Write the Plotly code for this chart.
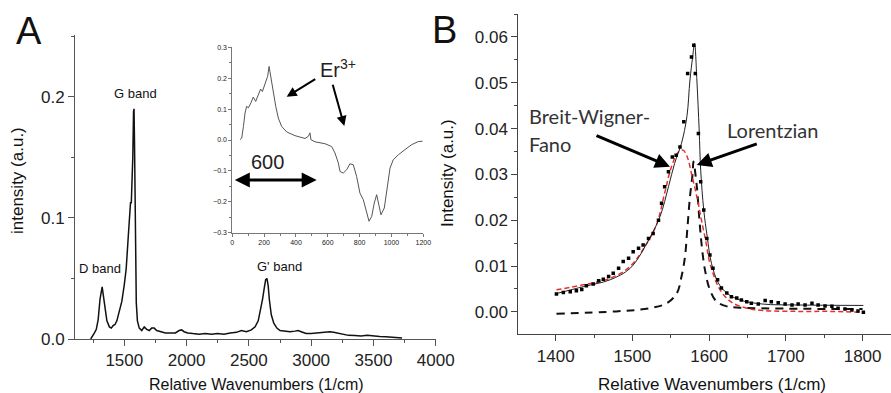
import plotly.graph_objects as go

# ---------------- Panel A: full Raman spectrum ----------------
a_wavenumber = [1230, 1245, 1260, 1275, 1290, 1305, 1315, 1322, 1330, 1345, 1360, 1380, 1395, 1410,
                1425, 1440, 1460, 1480, 1500, 1515, 1530, 1540, 1550, 1556, 1562, 1568, 1574, 1578,
                1582, 1586, 1590, 1596, 1605, 1620, 1640, 1660, 1680, 1700, 1720, 1740, 1760, 1790,
                1830, 1870, 1910, 1940, 1960, 1980, 2010, 2050, 2100, 2150, 2200, 2250, 2300, 2350,
                2400, 2440, 2480, 2520, 2550, 2575, 2595, 2610, 2625, 2635, 2645, 2655, 2665, 2680,
                2700, 2725, 2750, 2790, 2830, 2870, 2895, 2920, 2960, 3000, 3050, 3100, 3150, 3180,
                3220, 3260, 3300, 3350, 3400, 3450, 3500, 3550, 3600, 3650, 3700, 3730]
a_intensity = [0.0, 0.002, 0.005, 0.008, 0.016, 0.033, 0.041, 0.043, 0.037, 0.024, 0.015, 0.010, 0.009, 0.011,
               0.012, 0.015, 0.022, 0.031, 0.045, 0.058, 0.082, 0.103, 0.113, 0.112, 0.125, 0.150, 0.188, 0.190,
               0.160, 0.120, 0.070, 0.030, 0.015, 0.009, 0.007, 0.010, 0.008, 0.007, 0.009, 0.009, 0.007, 0.006,
               0.005, 0.005, 0.005, 0.007, 0.0075, 0.006, 0.005, 0.0045, 0.004, 0.0045, 0.004, 0.0045, 0.004, 0.005,
               0.0055, 0.007, 0.006, 0.0075, 0.010, 0.015, 0.024, 0.033, 0.043, 0.049, 0.050, 0.044, 0.032, 0.020,
               0.013, 0.009, 0.007, 0.0065, 0.006, 0.0065, 0.007, 0.006, 0.0045, 0.0045, 0.005, 0.0055, 0.006, 0.0055,
               0.0045, 0.0035, 0.003, 0.0028, 0.0025, 0.003, 0.0022, 0.002, 0.0018, 0.0012, 0.001, 0.0008]

# ---------------- Inset: Er3+ difference spectrum ----------------
inset_x = [48, 59, 70, 80, 90, 101, 117, 132, 147, 163, 178, 189, 205, 222, 231, 241, 258, 273, 289, 310,
           342, 394, 457, 478, 488, 494, 520, 582, 624, 645, 666, 677, 697, 719, 739, 760, 781, 802, 823,
           844, 859, 876, 892, 907, 922, 934, 955, 976, 991, 1011, 1043, 1085, 1127, 1169, 1195]
inset_y = [0.001, 0.006, 0.044, 0.087, 0.109, 0.104, 0.120, 0.139, 0.125, 0.147, 0.165, 0.157, 0.184, 0.206,
           0.238, 0.206, 0.157, 0.109, 0.071, 0.044, 0.026, 0.014, 0.005, 0.012, 0.023, 0.001, -0.006, -0.012,
           -0.021, -0.042, -0.074, -0.102, -0.107, -0.096, -0.077, -0.080, -0.118, -0.172, -0.193, -0.236,
           -0.263, -0.247, -0.204, -0.177, -0.220, -0.242, -0.220, -0.150, -0.091, -0.064, -0.048, -0.031,
           -0.015, -0.005, -0.004]

# ---------------- Panel B: G band fit ----------------
b_data_x = [1401, 1410, 1419, 1427, 1434, 1440, 1449, 1456, 1462, 1469, 1475, 1482, 1488, 1495, 1501, 1508,
            1514, 1521, 1527, 1534, 1538, 1542, 1547, 1552, 1557, 1562, 1567, 1572, 1577, 1580, 1582, 1586,
            1589, 1593, 1597, 1601, 1605, 1611, 1616, 1623, 1629, 1636, 1642, 1649, 1655, 1664, 1673, 1681,
            1690, 1699, 1708, 1716, 1725, 1734, 1742, 1751, 1760, 1768, 1777, 1786, 1794, 1801]
b_data_y = [0.0039, 0.0042, 0.0044, 0.0046, 0.0049, 0.0057, 0.0061, 0.0068, 0.0071, 0.0077, 0.0084, 0.0095,
            0.0110, 0.0117, 0.0131, 0.0139, 0.0146, 0.0160, 0.0171, 0.0200, 0.0237, 0.0273, 0.0306, 0.0338,
            0.0342, 0.0360, 0.0415, 0.0520, 0.0556, 0.0582, 0.0520, 0.0389, 0.0284, 0.0222, 0.0160, 0.0124,
            0.0095, 0.0070, 0.0052, 0.0041, 0.0033, 0.0030, 0.0026, 0.0022, 0.0019, 0.0017, 0.0025, 0.0022,
            0.0020, 0.0017, 0.0015, 0.0017, 0.0015, 0.0019, 0.0015, 0.0013, 0.0012, 0.0008, 0.0006, 0.0004,
            0.0002, -0.0001]

b_fit_x = [1401, 1436, 1471, 1497, 1519, 1536, 1547, 1555, 1564, 1571, 1575, 1578.5, 1581, 1584, 1587,
           1589, 1593, 1597.5, 1603, 1612, 1623, 1640, 1670, 1714, 1801]
b_fit_y = [0.0040, 0.0055, 0.0070, 0.0095, 0.0150, 0.0208, 0.0273, 0.0324, 0.0368, 0.0426, 0.0506, 0.0556,
           0.0586, 0.0506, 0.0397, 0.0309, 0.0222, 0.0164, 0.0106, 0.0063, 0.0041, 0.0026, 0.0017, 0.0015, 0.0014]

b_bwf_x = [1401, 1436, 1471, 1497, 1519, 1532, 1542, 1551, 1560, 1566, 1571.5, 1577, 1584, 1590, 1597,
           1599, 1605, 1612, 1621, 1631, 1649, 1670, 1714, 1757, 1801]
b_bwf_y = [0.0048, 0.0059, 0.0073, 0.0099, 0.0150, 0.0193, 0.0259, 0.0317, 0.0349, 0.0353, 0.0338, 0.0302,
           0.0251, 0.0200, 0.0142, 0.0120, 0.0084, 0.0055, 0.0033, 0.0019, 0.0008, 0.0003, 0.0001, 0.0001, -0.0001]

b_lor_x = [1401, 1479, 1523, 1545, 1558, 1564, 1568.5, 1571.5, 1575, 1578.5, 1579.5, 1584, 1587, 1590,
           1594.5, 1601, 1610, 1623, 1640, 1700, 1800]
b_lor_y = [-0.0004, 0.0001, 0.0008, 0.0019, 0.0041, 0.0077, 0.0120, 0.0179, 0.0251, 0.0302, 0.0328, 0.0273,
           0.0208, 0.0150, 0.0092, 0.0048, 0.0022, 0.0012, 0.0009, 0.0007, 0.0006]

W, H = 891, 393
FONT = "Liberation Sans, Arial, sans-serif"
CAL = "Lato, Liberation Sans, sans-serif"


def px(x):
    return x / W


def py(y):
    return 1 - y / H


fig = go.Figure()
fig.add_trace(go.Scatter(x=a_wavenumber, y=a_intensity, mode="lines",
                         line=dict(color="#111", width=1.5), xaxis="x", yaxis="y"))
fig.add_trace(go.Scatter(x=inset_x, y=inset_y, mode="lines",
                         line=dict(color="#555", width=1), xaxis="x3", yaxis="y3"))
fig.add_trace(go.Scatter(x=b_lor_x, y=b_lor_y, mode="lines", line_shape="spline",
                         line=dict(color="#111", width=2, dash="8px,6px"), xaxis="x2", yaxis="y2"))
fig.add_trace(go.Scatter(x=b_bwf_x, y=b_bwf_y, mode="lines", line_shape="spline",
                         line=dict(color="#e8302a", width=1.5, dash="5px,3px"), xaxis="x2", yaxis="y2"))
fig.add_trace(go.Scatter(x=b_fit_x, y=b_fit_y, mode="lines", line_shape="spline",
                         line=dict(color="#222", width=1), xaxis="x2", yaxis="y2"))
fig.add_trace(go.Scatter(x=b_data_x, y=b_data_y, mode="markers",
                         marker=dict(symbol="square", size=3.5, color="#000"), xaxis="x2", yaxis="y2"))


def axis(domain, rng, dtick, minor, fsize, ticklen, fmt=None, anchor=None, color="#555"):
    d = dict(domain=domain, range=rng, dtick=dtick, tick0=0, showgrid=False, zeroline=False,
             showline=True, linecolor=color, linewidth=1, ticks="outside", ticklen=ticklen,
             tickcolor=color, tickwidth=1, tickfont=dict(family=FONT, size=fsize, color="#222"),
             minor=dict(dtick=minor, ticks="outside", ticklen=max(2, ticklen // 2), tickcolor=color,
                        showgrid=False), anchor=anchor, fixedrange=True, automargin=False)
    if fmt:
        d["tickformat"] = fmt
    return d


fig.update_layout(
    width=W, height=H, autosize=False, showlegend=False,
    margin=dict(l=0, r=0, t=0, b=0, pad=0),
    paper_bgcolor="white", plot_bgcolor="rgba(0,0,0,0)",
    xaxis=axis([px(75), px(435.7)], [1104, 4000], 500, 250, 17, 6, anchor="y"),
    yaxis=axis([py(339), py(35)], [0, 0.251], 0.1, 0.05, 17, 6, ".1f", anchor="x"),
    xaxis2=axis([px(518.3), 1.0], [1351.3, 1837], 100, 50, 17, 6, anchor="y2", color="#444"),
    yaxis2=axis([py(334.3), py(14)], [-0.0049, 0.065], 0.01, 0.005, 17, 6, ".2f", anchor="x2", color="#444"),
    xaxis3=axis([px(232.3), px(423.3)], [0, 1200], 200, 100, 7, 3, anchor="y3", color="#777"),
    yaxis3=axis([py(232.7), py(47.3)], [-0.3, 0.3], 0.1, 0.05, 7, 3, ".1f", anchor="x3", color="#777"),
)

ann = []


def text(x, y, s, size, family=FONT, xanchor="center", color="#111", angle=0):
    ann.append(dict(x=px(x), y=py(y), xref="paper", yref="paper", text=s, showarrow=False,
                    xanchor=xanchor, yanchor="middle", textangle=angle,
                    font=dict(family=family, size=size, color=color)))


def arrow(hx, hy, tx, ty, width, side="end", head=2, size=1.0):
    ann.append(dict(x=px(hx), y=py(hy), xref="paper", yref="paper", text="", showarrow=True,
                    ax=tx - hx, ay=ty - hy, axref="pixel", ayref="pixel", arrowhead=head,
                    startarrowhead=head, arrowside=side, arrowwidth=width, arrowsize=size,
                    startarrowsize=size, arrowcolor="#000"))


# panel letters
text(29, 31, "A", 38)
text(444, 30, "B", 38)
# axis titles
text(256, 384, "Relative Wavenumbers (1/cm)", 16)
text(17, 181, "intensity (a.u.)", 17, angle=-90)
text(712, 384, "Relative Wavenumbers (1/cm)", 17)
text(447, 173, "Intensity (a.u.)", 17, angle=-90)
# band labels
text(135, 93, "G band", 13)
text(100, 268, "D band", 13)
text(279, 266, "G' band", 13)
# inset annotations
text(338, 69, "Er<sup>3+</sup>", 20, color="#222")
arrow(286.7, 96.7, 316.7, 78.3, 2)
arrow(344.3, 126, 332.3, 83.3, 2)
text(267, 162, "600", 20, color="#222")
arrow(316.7, 180, 233.3, 180, 3, side="end+start")
# panel B annotations
text(527, 116, "Breit-Wigner-", 20, family=CAL, xanchor="left", color="#333")
text(527, 144, "Fano", 20, family=CAL, xanchor="left", color="#333")
text(772, 130, "Lorentzian", 20, family=CAL, color="#333")
arrow(670, 166.7, 595, 135, 3)
arrow(696.7, 165, 758.3, 143.3, 3)

fig.update_layout(annotations=ann)
fig.write_html(
    "out.html",
    config={"displayModeBar": False, "staticPlot": True},
    post_script="document.body.style.margin='0';document.body.style.padding='0';"
                "document.documentElement.style.overflow='hidden';",
)
